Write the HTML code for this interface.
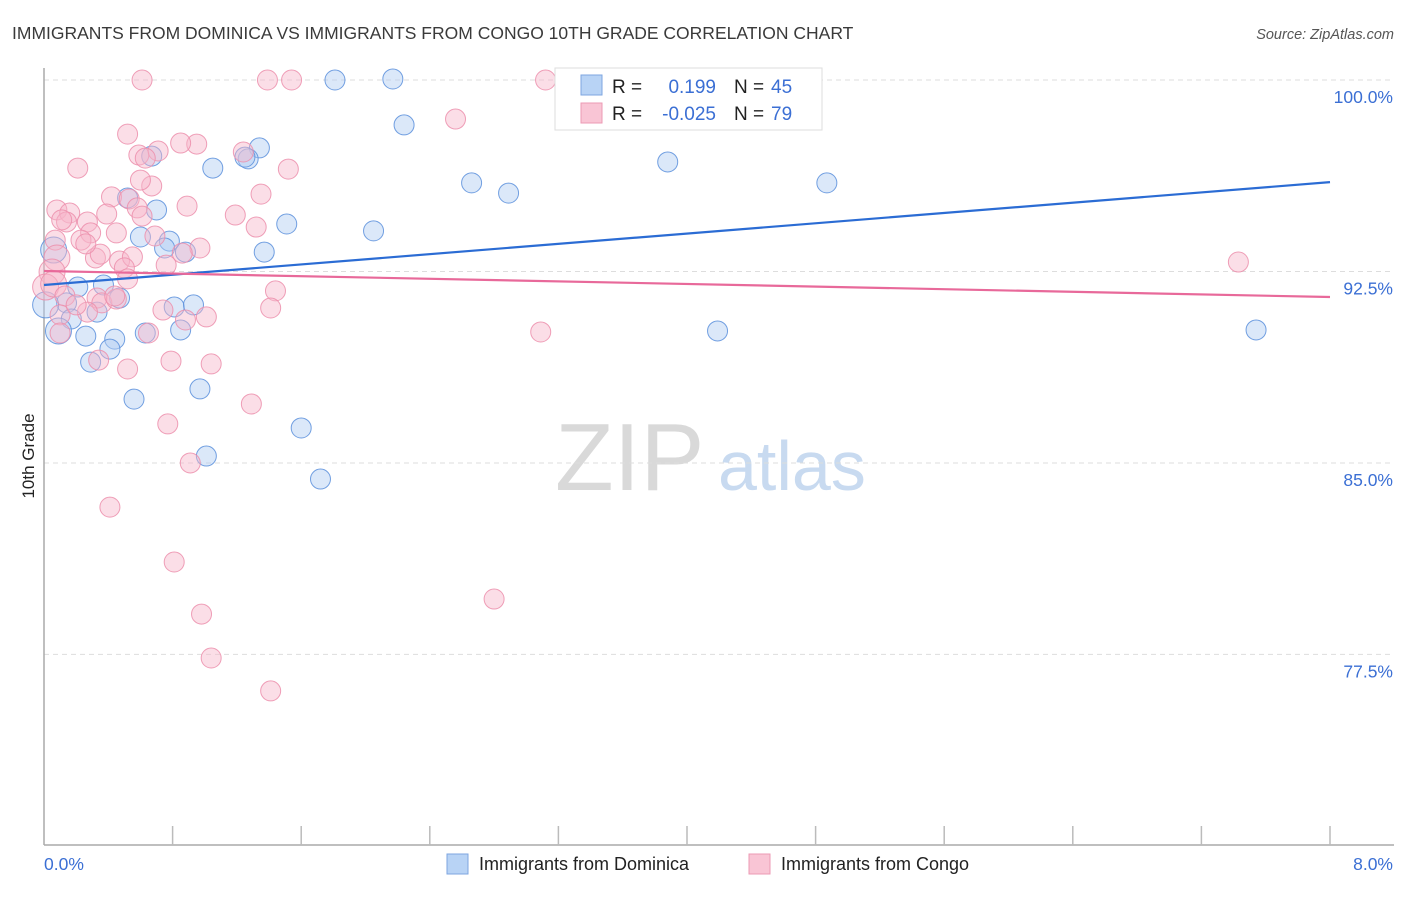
<!DOCTYPE html>
<html><head><meta charset="utf-8"><style>
html,body{margin:0;padding:0;background:#fff;}
body{width:1406px;height:892px;overflow:hidden;font-family:"Liberation Sans",sans-serif;}
svg text{font-family:"Liberation Sans",sans-serif;}
</style></head><body>
<svg id="chart" width="1406" height="892" viewBox="0 0 1406 892">
<text x="12" y="39" font-size="17.5" fill="#3a3a3a">IMMIGRANTS FROM DOMINICA VS IMMIGRANTS FROM CONGO 10TH GRADE CORRELATION CHART</text>
<text x="1394" y="39" font-size="14.5" fill="#555" font-style="italic" text-anchor="end">Source: ZipAtlas.com</text>
<g>
<text x="555" y="490" font-size="96" font-family="Liberation Serif" fill="#d9d9d9">ZIP</text>
<text x="718" y="490" font-size="70" fill="#c8daf0">atlas</text>
</g>
<g id="grid"></g>
<g id="axes"></g>
<text transform="translate(34,456) rotate(-90)" font-size="17" fill="#222" text-anchor="middle">10th Grade</text>
<g id="pts-blue"></g>
<g id="pts-pink"></g>
<g id="trends"></g>
<g>
<rect x="555" y="68" width="267" height="62" fill="#fff" stroke="#ddd"/>
<rect x="581" y="75" width="21" height="20" fill="#b8d3f5" stroke="#7ea6e0"/>
<rect x="581" y="103" width="21" height="20" fill="#f9c5d5" stroke="#ec9ab4"/>
<text x="612" y="93" font-size="19" fill="#222">R =</text>
<text x="716" y="93" font-size="19" fill="#3b6fd4" text-anchor="end">0.199</text>
<text x="734" y="93" font-size="19" fill="#222">N =</text>
<text x="771" y="93" font-size="19" fill="#3b6fd4">45</text>
<text x="612" y="120" font-size="19" fill="#222">R =</text>
<text x="716" y="120" font-size="19" fill="#3b6fd4" text-anchor="end">-0.025</text>
<text x="734" y="120" font-size="19" fill="#222">N =</text>
<text x="771" y="120" font-size="19" fill="#3b6fd4">79</text>
</g>
<g>
<rect x="447" y="854" width="21" height="20" fill="#b8d3f5" stroke="#7ea6e0"/>
<text x="479" y="870" font-size="18" fill="#222">Immigrants from Dominica</text>
<rect x="749" y="854" width="21" height="20" fill="#f9c5d5" stroke="#ec9ab4"/>
<text x="781" y="870" font-size="18" fill="#222">Immigrants from Congo</text>
</g>
</svg>
<script>
const yTicks=[100,92.5,85,77.5];
const yTickLabels=["100.0%","92.5%","85.0%","77.5%"];
const xTickCount=10;
const xLabels=["0.0%","8.0%"];
const blueX=[1.81,2.17,2.24,1.34,0.67,1.27,1.05,2.66,2.89,3.88,4.87,0.52,0.70,1.51,2.05,0.60,0.78,0.75,0.88,1.37,0.06,0.21,0.37,0.47,0.14,0.17,0.33,0.81,0.93,0.85,0.09,0.26,0.44,0.63,0.41,0.29,0.56,0.97,1.60,1.01,1.72,4.19,7.54,0.01,1.25];
const blueY=[100.0,100.04,98.24,97.34,97.02,96.91,96.55,95.97,95.57,96.79,95.97,95.38,94.91,94.36,94.09,93.85,93.69,93.42,93.26,93.26,93.34,91.89,91.97,91.46,91.27,90.64,90.91,91.11,91.19,90.21,90.17,89.97,89.85,90.09,89.46,88.95,87.50,87.90,86.37,85.27,84.37,90.17,90.21,91.19,96.98];
const pinkX=[0.61,1.39,1.54,3.12,2.56,0.52,0.95,0.85,0.59,0.71,0.63,1.24,1.52,0.21,0.67,1.35,0.42,0.89,0.08,0.16,0.14,0.27,0.53,0.58,0.39,0.61,1.19,1.32,0.29,0.45,0.69,0.07,0.23,0.97,0.47,0.08,0.32,0.55,0.86,0.76,0.50,0.05,0.01,0.06,1.44,0.13,0.33,0.36,0.45,0.10,0.27,0.74,0.88,1.01,1.41,0.65,0.10,0.34,0.52,0.79,1.04,1.29,0.77,0.91,0.41,0.81,0.98,1.04,1.41,2.80,3.09,7.43,0.35,0.20,0.52,0.26,0.60,0.11,0.44];
const pinkY=[100.0,100.0,100.0,100.0,98.47,97.88,97.49,97.53,97.06,97.22,96.94,97.18,96.51,96.55,95.85,95.53,95.42,95.06,94.91,94.79,94.44,94.44,95.34,94.99,94.75,94.67,94.71,94.24,94.01,94.01,93.89,93.73,93.73,93.42,92.91,93.03,93.03,93.07,93.22,92.75,92.64,92.48,91.89,92.01,91.74,91.54,91.46,91.27,91.42,90.80,90.91,90.99,90.60,90.72,91.07,90.09,90.09,89.03,88.68,88.99,88.88,87.31,86.53,85.00,83.27,81.12,79.08,77.36,76.07,79.67,90.13,92.87,93.18,91.19,92.21,93.58,96.08,94.52,91.54];
const blueTrend=[91.97,96.0];
const pinkTrend=[92.52,91.5];
const X0=44,X1=1330,XMAX=8,Y100=80,PXPER=25.53;
const sx=v=>X0+(v/XMAX)*(X1-X0);
const sy=v=>Y100+(100-v)*PXPER;
const NS="http://www.w3.org/2000/svg";
function mk(t,a,p){const e=document.createElementNS(NS,t);for(const k in a)e.setAttribute(k,a[k]);p.appendChild(e);return e;}
const grid=document.getElementById('grid'),axes=document.getElementById('axes');
yTicks.forEach((t,i)=>{
 const l=mk('line',{x1:X0,x2:1394,y1:sy(t),y2:sy(t),stroke:'#ddd','stroke-dasharray':'5,4'},grid);
 
 
 const tx=mk('text',{x:1393,y:sy(t)+23,'font-size':17.5,fill:'#3b6fd4','text-anchor':'end'},axes);
 tx.textContent=yTickLabels[i];
 
 
});
const yl=mk('line',{x1:X0,x2:X0,y1:68,y2:845,stroke:'#aaa','stroke-width':1.5},axes);


const xl=mk('line',{x1:X0,x2:1394,y1:845,y2:845,stroke:'#aaa','stroke-width':1.5},axes);


for(let i=1;i<=xTickCount;i++){
 const v=i*XMAX/xTickCount;
 const tk=mk('line',{x1:sx(v),x2:sx(v),y1:826,y2:845,stroke:'#bbb','stroke-width':1.5},axes);
 
 
}
const xa=mk('text',{x:44,y:870,'font-size':17.5,fill:'#3b6fd4'},axes);xa.textContent=xLabels[0];


const xb=mk('text',{x:1393,y:870,'font-size':17.5,fill:'#3b6fd4','text-anchor':'end'},axes);xb.textContent=xLabels[1];


function pts(xs,ys,g,fill,stroke,name){
 xs.forEach((x,i)=>{
  const big=(x<0.1&&ys[i]<93.5&&ys[i]>89.5)?13:10;
  const c=mk('circle',{cx:sx(x),cy:sy(ys[i]),r:big,fill:fill,'fill-opacity':0.45,stroke:stroke,'stroke-opacity':0.85,'stroke-width':1},g);
  
  
 });
}
pts(pinkX,pinkY,document.getElementById('pts-pink'),'#f7b6ca','#ec8eac','congo-point');
pts(blueX,blueY,document.getElementById('pts-blue'),'#b0cdf2','#5b8fdc','dominica-point');
const tr=document.getElementById('trends');
const bl=mk('line',{x1:sx(0),y1:sy(blueTrend[0]),x2:sx(XMAX),y2:sy(blueTrend[1]),stroke:'#2b6cd4','stroke-width':2.2},tr);


const pl=mk('line',{x1:sx(0),y1:sy(pinkTrend[0]),x2:sx(XMAX),y2:sy(pinkTrend[1]),stroke:'#e8699a','stroke-width':2.2},tr);


</script>
</body></html>
